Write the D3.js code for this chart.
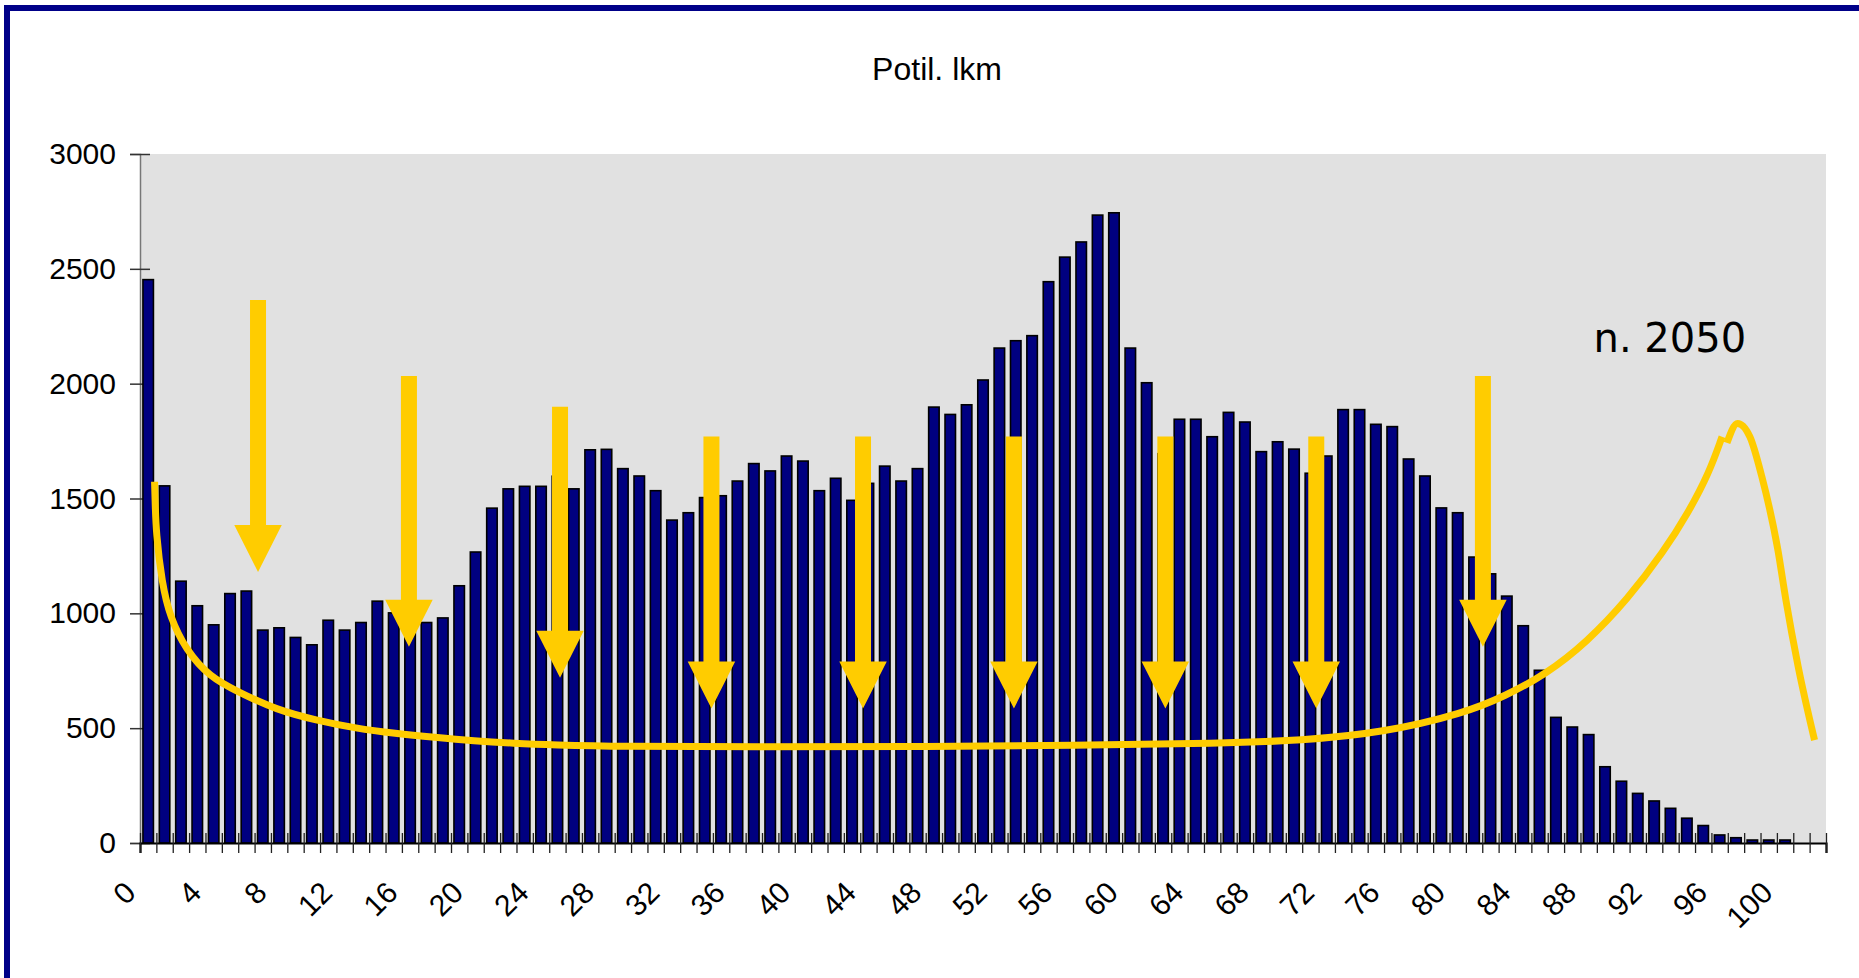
<!DOCTYPE html>
<html><head><meta charset="utf-8">
<script src="https://cdn.jsdelivr.net/npm/d3@7"></script>
<style>
html,body{margin:0;padding:0;background:#fff;}
svg{display:block;}
</style></head><body>
<svg id="chart" width="1859" height="978"></svg>
<script>
// ---------- data ----------
const ages = d3.range(0, 103);
const population = [
  2453,1555,1140,1033,950,1086,1097,927,937,895,
  863,970,927,960,1053,1002,990,960,980,1120,
  1267,1458,1542,1553,1553,1597,1542,1712,1714,1630,
  1598,1534,1406,1438,1504,1512,1576,1652,1620,1685,
  1663,1534,1588,1492,1566,1641,1576,1630,1898,1866,
  1908,2016,2155,2187,2209,2444,2551,2617,2734,2744,
  2155,2004,1695,1845,1845,1769,1875,1833,1704,1747,
  1715,1610,1685,1887,1887,1823,1813,1672,1598,1459,
  1438,1245,1172,1075,946,752,547,505,472,332,
  269,216,183,151,108,76,35,23,13,13,
  13,0,0
];
const yTicks = [0,500,1000,1500,2000,2500,3000];
const xTickLabels = ["0","4","8","12","16","20","24","28","32","36","40","44","48","52","56","60","64","68","72","76","80","84","88","92","96","100"];
const chartTitle = "Potil. lkm";
const noteText = "n. 2050";

// annotation arrows (age position, value at top of shaft, value at tip)
const arrowAge = [7.21, 16.43, 25.66, 34.91, 44.17, 53.39, 62.64, 71.86, 82.04];
const arrowTop = [2364, 2033, 1900, 1770, 1770, 1770, 1770, 1770, 2033];
const arrowTip = [1180, 855, 720, 586, 586, 586, 586, 586, 855];

// hand-drawn 2050 curve (age position, value)
const curveMainAge = [0.89,0.92,0.98,1.34,1.83,2.81,4.25,5.93,8.36,10.75,13.2,15.58,18.0,20.4,22.85,25.27,29.3,37.75,47.4,57.1,66.0,70.95,75.93,80.9,83.4,85.9,88.4,90.87,93.1,94.6,95.85,96.65];
const curveMainValue = [1573,1500,1350,1132,984,840,724,660,579,535,499,477,460,445,434,427,420,418,420,425,434,446,480,565,640,735,875,1060,1270,1440,1610,1769];
const curvePeakAge = [96.95,97.6,98.35,99.08,100.06,100.55,101.3,102.3];
const curvePeakValue = [1742,1827,1769,1595,1276,1058,768,448];

// ---------- layout ----------
const plot = {left:140, right:1826, top:154, bottom:843};
const font = "'Liberation Sans', Arial, sans-serif";
const svg = d3.select("#chart");

const x = d3.scaleBand().domain(ages).range([plot.left, plot.right]).paddingInner(0.36).paddingOuter(0.18);
const xLin = d3.scaleLinear().domain([0, ages.length]).range([plot.left, plot.right]);
const y = d3.scaleLinear().domain([0, 3000]).range([plot.bottom, plot.top]);

// frame
svg.append("rect").attr("x",7).attr("y",8).attr("width",1860).attr("height",1000)
  .attr("fill","none").attr("stroke","#000088").attr("stroke-width",6);

// title
svg.append("text").attr("x",937).attr("y",80).attr("text-anchor","middle")
  .attr("font-family",font).attr("font-size",32).attr("fill","#000").text(chartTitle);

// plot area
svg.append("rect").attr("x",plot.left).attr("y",plot.top)
  .attr("width",plot.right-plot.left).attr("height",plot.bottom-plot.top).attr("fill","#e1e1e1");

// y axis
const yAxis = svg.append("g").attr("transform",`translate(${plot.left},0)`)
  .call(d3.axisLeft(y).tickValues(yTicks).tickFormat(d3.format("d")).tickSize(10).tickPadding(14));
yAxis.select(".domain").attr("stroke","#777").attr("stroke-width",1.5);
yAxis.selectAll(".tick line").attr("x1",10).attr("stroke","#333").attr("stroke-width",1.5);
yAxis.selectAll(".tick text").attr("font-family",font).attr("font-size",30).attr("fill","#000");

// bars
svg.append("g").selectAll("rect").data(ages.filter(a => population[a] > 0)).join("rect")
  .attr("x", a => x(a)).attr("width", x.bandwidth())
  .attr("y", a => y(population[a])).attr("height", a => y(0) - y(population[a]))
  .attr("fill","#000080").attr("stroke","#000").attr("stroke-width",1.6);

// x axis ticks (category boundaries)
const xAxis = svg.append("g").attr("transform",`translate(0,${plot.bottom})`)
  .call(d3.axisBottom(xLin).tickValues(d3.range(0, ages.length + 1)).tickSize(10).tickFormat(""));
xAxis.select(".domain").attr("stroke","#000").attr("stroke-width",2.2);
xAxis.selectAll(".tick line").attr("y1",-10).attr("stroke","#222").attr("stroke-width",1.3);

// x labels
svg.append("g").selectAll("text").data(xTickLabels).join("text")
  .attr("transform", d => `translate(${x(+d) + x.bandwidth()/2 - 18},${plot.bottom + 44}) rotate(-45)`)
  .attr("text-anchor","end").attr("dy","0.35em")
  .attr("font-family",font).attr("font-size",30).attr("fill","#000").text(d => d);

// curve
const curveColor = "#ffcc00";
const lineMain = d3.line().x(d => xLin(d[0])).y(d => y(d[1])).curve(d3.curveBasis);
const linePeak = d3.line().x(d => xLin(d[0])).y(d => y(d[1])).curve(d3.curveMonotoneX);
svg.append("path").attr("d", lineMain(curveMainAge.map((a,i)=>[a, curveMainValue[i]])))
  .attr("fill","none").attr("stroke",curveColor).attr("stroke-width",7).attr("stroke-linejoin","round");
svg.append("path").attr("d", linePeak(curvePeakAge.map((a,i)=>[a, curvePeakValue[i]])))
  .attr("fill","none").attr("stroke",curveColor).attr("stroke-width",7).attr("stroke-linejoin","round");

// arrows
const shaftW = 16, headW = 47.5, headL = 47;
svg.append("g").selectAll("path").data(arrowAge.map((a,i)=>({a, top:arrowTop[i], tip:arrowTip[i]}))).join("path")
  .attr("d", d => {
    const cx = xLin(d.a), yt = y(d.top), yp = y(d.tip), yb = yp - headL;
    return `M${cx-shaftW/2},${yt}L${cx+shaftW/2},${yt}L${cx+shaftW/2},${yb}L${cx+headW/2},${yb}L${cx},${yp}L${cx-headW/2},${yb}L${cx-shaftW/2},${yb}Z`;
  })
  .attr("fill",curveColor);

// note
svg.append("text").attr("x", xLin(88.8)).attr("y", y(2138))
  .attr("font-family","'Comic Sans MS','DejaVu Sans',sans-serif").attr("font-size",40).attr("fill","#000").text(noteText);
</script>
</body></html>
